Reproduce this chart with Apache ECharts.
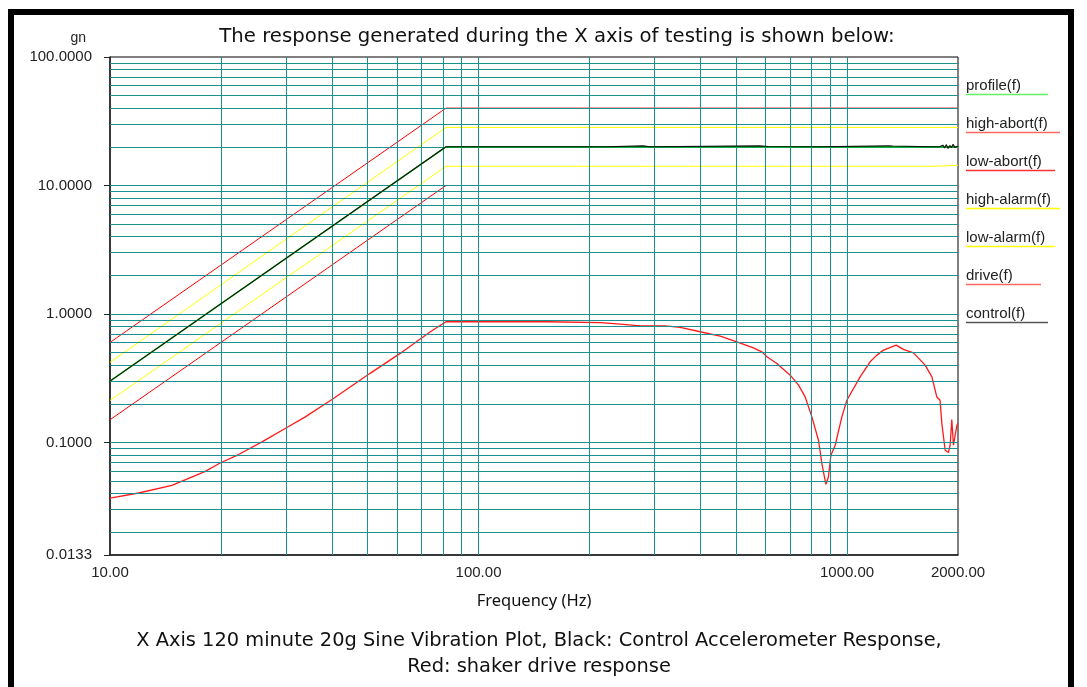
<!DOCTYPE html>
<html>
<head>
<meta charset="utf-8">
<script src="https://cdn.jsdelivr.net/npm/echarts@6/dist/echarts.min.js"></script>
<style>
  html, body { margin: 0; padding: 0; background: #fff; }
  #wrap { position: relative; width: 1087px; height: 687px; overflow: hidden; background: #fff; }
  #frame { position: absolute; left: 8px; top: 9px; width: 1054px; height: 700px; border: 6px solid #000; box-sizing: content-box; pointer-events: none; }
  #chart { position: absolute; left: 0; top: 0; width: 1087px; height: 687px; }
</style>
</head>
<body>
<div id="wrap">
  <div id="chart"></div>
  <div id="frame"></div>
</div>
<script>
// ---- Data ----
const titleText = 'The response generated during the X axis of testing is shown below:';
const captionText = 'X Axis 120 minute 20g Sine Vibration Plot, Black: Control Accelerometer Response,\nRed: shaker drive response';
const legendNames = ['profile(f)', 'high-abort(f)', 'low-abort(f)', 'high-alarm(f)', 'low-alarm(f)', 'drive(f)', 'control(f)'];

// profile and limit lines (frequency Hz, acceleration gn)
const profileFreq = [10, 81.6, 2000];
const profileVals = [0.3, 20, 20];
const highAbortFreq = [10, 81.6, 2000];
const highAbortVals = [0.6, 40, 40];
const lowAbortFreq = [10, 81.6, 2000];
const lowAbortVals = [0.15, 10, 10];
const highAlarmFreq = [10, 81.6, 2000];
const highAlarmVals = [0.42, 28.3, 28.3];
const lowAlarmFreq = [10, 81.6, 1720, 1721, 2000];
const lowAlarmVals = [0.212, 14.1, 14.1, 14.35, 14.35];

// control accelerometer response
const controlFreq = [10, 81.6, 100, 101, 102, 222, 223, 280, 281, 292, 293, 580, 581, 612, 613, 845, 846, 1300, 1310, 1330, 1340, 1700, 1780, 1800, 1820, 1840, 1860, 1880, 1900, 1920, 1940, 1960, 1980, 2000];
const controlVals = [0.3, 20, 20, 19.7, 20, 20, 20.35, 20.35, 20, 20, 20.35, 20.35, 20.1, 20.1, 20, 20, 20.35, 20.35, 20.1, 20.3, 20.1, 20, 20, 19.5, 20.6, 19.6, 20.8, 19.4, 20.5, 19.7, 20.9, 19.8, 20.4, 20.2];

// shaker drive response
const driveFreq = [10, 11.96, 14.73, 18.14, 19.9, 22.33, 25.85, 30.2, 33.88, 40.02, 50.8, 62.6, 74.0, 81.6, 153.5, 213.8, 242.6, 274.6, 321, 352.5, 399.5, 452.7, 502.3, 557, 587.4, 606, 645, 701, 738.5, 769.7, 802.6, 836.5, 854.5, 876, 890, 904, 928.4, 968, 998.8, 1085, 1155, 1205, 1256, 1359, 1422, 1514, 1629, 1699, 1752, 1788, 1808, 1846, 1884, 1904, 1924, 1944, 1986, 2000];
const driveVals = [0.0369, 0.0404, 0.0464, 0.0596, 0.0692, 0.0805, 0.1009, 0.1306, 0.158, 0.216, 0.345, 0.514, 0.726, 0.87, 0.87, 0.857, 0.834, 0.809, 0.809, 0.786, 0.727, 0.673, 0.607, 0.545, 0.507, 0.464, 0.412, 0.334, 0.279, 0.226, 0.158, 0.104, 0.0685, 0.0472, 0.0538, 0.0795, 0.0951, 0.158, 0.213, 0.324, 0.424, 0.478, 0.523, 0.572, 0.530, 0.498, 0.400, 0.324, 0.226, 0.213, 0.140, 0.0869, 0.0837, 0.0951, 0.151, 0.0951, 0.136, 0.141];

// axis ranges and grid lines
const xMin = 10, xMax = 2000;
const yMin = 0.0133, yMax = 100;
const xGridValues = [20, 30, 40, 50, 60, 70, 80, 90, 100, 200, 300, 400, 500, 600, 700, 800, 900, 1000];
const yGridValues = [0.02, 0.03, 0.04, 0.05, 0.06, 0.07, 0.08, 0.09, 0.1, 0.2, 0.3, 0.4, 0.5, 0.6, 0.7, 0.8, 0.9, 1, 2, 3, 4, 5, 6, 7, 8, 9, 10, 20, 30, 40, 50, 60, 70, 80, 90];

// ---- Build chart ----
const zip = (a, b) => a.map((v, i) => [v, b[i]]);
const legendColors = ['#66ee66', '#ff6666', '#ff3333', '#ffff00', '#ffff00', '#ff6666', '#555555'];
const underlineWidths = [82, 94, 89, 94, 89, 75, 82];
const rich = { t: { fontFamily: 'Liberation Sans', fontSize: 15, color: '#222', lineHeight: 14 } };
legendNames.forEach((n, i) => {
  rich['u' + i] = { width: underlineWidths[i], height: 1.5, lineHeight: 4, backgroundColor: legendColors[i] };
});

const gridColor = '#1a9090';
const lineSeries = (name, freq, vals, color, z, width) => ({
  name, type: 'line', data: zip(freq, vals), symbol: 'none', z,
  lineStyle: { color, width: width || 1 }, itemStyle: { color }, animation: false
});

const chart = echarts.init(document.getElementById('chart'), null, { renderer: 'canvas' });
chart.setOption({
  backgroundColor: '#fff',
  animation: false,
  title: [
    { text: titleText, left: 552, top: 22, textAlign: 'center',
      textStyle: { fontFamily: 'DejaVu Sans', fontSize: 19.7, fontWeight: 'normal', color: '#111' } },
    { text: captionText, left: 534, top: 623, textAlign: 'center',
      textStyle: { fontFamily: 'DejaVu Sans', fontSize: 19.4, fontWeight: 'normal', color: '#111', lineHeight: 26 } }
  ],
  legend: {
    data: legendNames, orient: 'vertical', left: 956, top: 73,
    itemWidth: 0, itemHeight: 0, itemGap: 15.5, icon: 'rect',
    formatter: (name) => '{t|' + name + '}\n{u' + legendNames.indexOf(name) + '|}',
    textStyle: { rich }
  },
  grid: { left: 110, right: 129, top: 57, bottom: 132, show: true, borderColor: '#000', borderWidth: 1, backgroundColor: '#fff' },
  xAxis: {
    type: 'log', logBase: 10, min: xMin, max: xMax,
    name: 'Frequency (Hz)', nameLocation: 'middle', nameGap: 38,
    nameTextStyle: { fontFamily: 'Noto Sans', fontSize: 16.5, color: '#111' },
    axisLine: { show: true, lineStyle: { color: '#222', width: 1.5 } },
    axisTick: { show: false },
    splitLine: { show: false },
    axisLabel: { fontFamily: 'Liberation Sans', fontSize: 15, color: '#222', margin: 10,
      showMinLabel: true, showMaxLabel: true, hideOverlap: false,
      formatter: (v) => Number(v).toFixed(2) }
  },
  yAxis: {
    type: 'log', logBase: 10, min: yMin, max: yMax,
    name: 'gn', nameLocation: 'end', nameGap: 12,
    nameTextStyle: { fontFamily: 'Liberation Sans', fontSize: 14, color: '#222', align: 'right', padding: [0, 24, 0, 0] },
    axisLine: { show: true, lineStyle: { color: '#222', width: 1.5 } },
    axisTick: { show: true, length: 6, lineStyle: { color: '#222' } },
    splitLine: { show: false },
    axisLabel: { fontFamily: 'Liberation Sans', fontSize: 15, color: '#222', margin: 18,
      showMinLabel: true, showMaxLabel: true, hideOverlap: false,
      formatter: (v) => Number(v).toFixed(4) }
  },
  series: [
    {
      name: 'gridlines', type: 'line', data: [], silent: true, z: 1,
      markLine: {
        silent: true, symbol: ['none', 'none'], animation: false,
        label: { show: false },
        lineStyle: { color: gridColor, width: 1, type: 'solid' },
        emphasis: { disabled: true },
        data: yGridValues.map(v => ({ yAxis: v })).concat(xGridValues.map(v => ({ xAxis: v })))
      }
    },
    lineSeries('high-abort(f)', highAbortFreq, highAbortVals, '#ff0000', 3),
    lineSeries('low-abort(f)', lowAbortFreq, lowAbortVals, '#ff0000', 3),
    lineSeries('high-alarm(f)', highAlarmFreq, highAlarmVals, '#ffff00', 3),
    lineSeries('low-alarm(f)', lowAlarmFreq, lowAlarmVals, '#ffff00', 3),
    lineSeries('drive(f)', driveFreq, driveVals, '#ff1a1a', 4, 1.3),
    lineSeries('profile(f)', profileFreq, profileVals, '#00cc00', 5, 1.5),
    lineSeries('control(f)', controlFreq, controlVals, '#111111', 6, 1.1)
  ]
});
</script>
</body>
</html>
